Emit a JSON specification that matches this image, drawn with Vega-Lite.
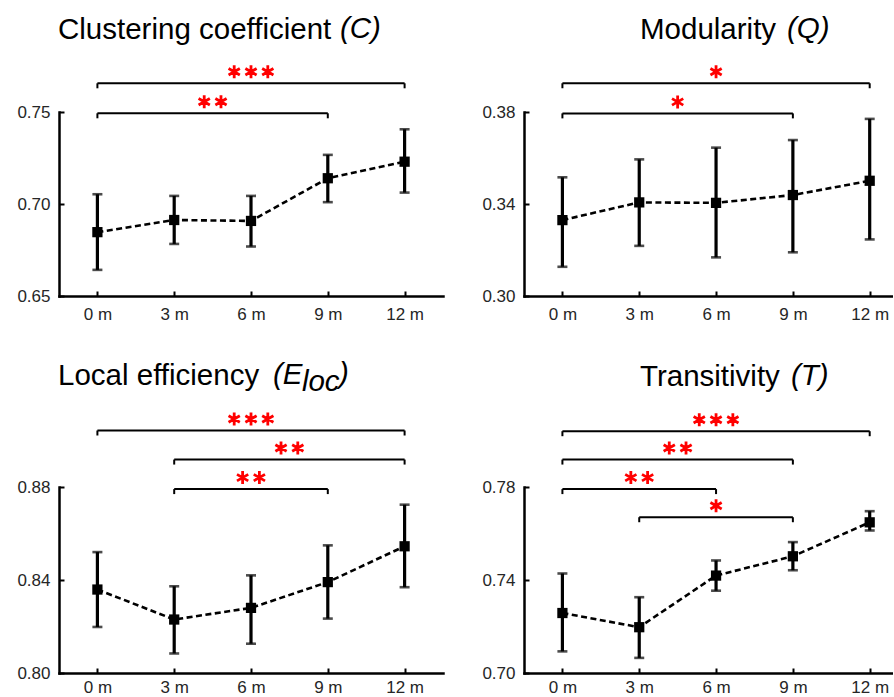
{
  "$schema": "https://vega.github.io/schema/vega-lite/v6.json",
  "padding": {"left": 16, "top": 14, "right": 0, "bottom": 0},
  "datasets": {
    "points": [
      {"metric": "C", "month": 0, "mean": 0.6847, "lo": 0.6642, "hi": 0.7053},
      {"metric": "C", "month": 3, "mean": 0.6913, "lo": 0.6783, "hi": 0.7044},
      {"metric": "C", "month": 6, "mean": 0.6908, "lo": 0.6769, "hi": 0.7044},
      {"metric": "C", "month": 9, "mean": 0.714, "lo": 0.701, "hi": 0.7267},
      {"metric": "C", "month": 12, "mean": 0.723, "lo": 0.7062, "hi": 0.7406},
      {"metric": "Q", "month": 0, "mean": 0.333, "lo": 0.3127, "hi": 0.3516},
      {"metric": "Q", "month": 3, "mean": 0.3407, "lo": 0.3218, "hi": 0.3594},
      {"metric": "Q", "month": 6, "mean": 0.3405, "lo": 0.3168, "hi": 0.3645},
      {"metric": "Q", "month": 9, "mean": 0.3439, "lo": 0.319, "hi": 0.3678},
      {"metric": "Q", "month": 12, "mean": 0.3501, "lo": 0.3246, "hi": 0.377},
      {"metric": "E", "month": 0, "mean": 0.8359, "lo": 0.8198, "hi": 0.852},
      {"metric": "E", "month": 3, "mean": 0.823, "lo": 0.8084, "hi": 0.8373},
      {"metric": "E", "month": 6, "mean": 0.828, "lo": 0.8126, "hi": 0.842},
      {"metric": "E", "month": 9, "mean": 0.8391, "lo": 0.8234, "hi": 0.8549},
      {"metric": "E", "month": 12, "mean": 0.8545, "lo": 0.8369, "hi": 0.8724},
      {"metric": "T", "month": 0, "mean": 0.7258, "lo": 0.7093, "hi": 0.7428},
      {"metric": "T", "month": 3, "mean": 0.7197, "lo": 0.7065, "hi": 0.7326},
      {"metric": "T", "month": 6, "mean": 0.7419, "lo": 0.7354, "hi": 0.7484},
      {"metric": "T", "month": 9, "mean": 0.7502, "lo": 0.7442, "hi": 0.7563},
      {"metric": "T", "month": 12, "mean": 0.7648, "lo": 0.7613, "hi": 0.7696}
    ],
    "brackets": [
      {"metric": "C", "from": 0, "to": 12, "level": 0.7656, "stars": "***"},
      {"metric": "C", "from": 0, "to": 9, "level": 0.7493, "stars": "**"},
      {"metric": "Q", "from": 0, "to": 12, "level": 0.3925, "stars": "*"},
      {"metric": "Q", "from": 0, "to": 9, "level": 0.3794, "stars": "*"},
      {"metric": "E", "from": 0, "to": 12, "level": 0.9043, "stars": "***"},
      {"metric": "E", "from": 3, "to": 12, "level": 0.8918, "stars": "**"},
      {"metric": "E", "from": 3, "to": 9, "level": 0.8791, "stars": "**"},
      {"metric": "T", "from": 0, "to": 12, "level": 0.804, "stars": "***"},
      {"metric": "T", "from": 0, "to": 9, "level": 0.7918, "stars": "**"},
      {"metric": "T", "from": 0, "to": 6, "level": 0.7791, "stars": "**"},
      {"metric": "T", "from": 3, "to": 9, "level": 0.767, "stars": "*"}
    ]
  },
  "spacing": 36,
  "vconcat": [
    {
      "spacing": 38,
      "hconcat": [
        {
          "title": {"text": "(C)", "fontStyle": "italic", "frame": "bounds", "dx": 323, "offset": -29.5},
          "vconcat": [
            {
              "width": 384, "height": 184,
              "title": {"text": "Clustering coefficient", "dx": -1, "offset": 14},
              "encoding": {"x": {"field": "month", "type": "quantitative", "title": null, "scale": {"domain": [-1.5, 13.5], "nice": false, "zero": false}, "axis": {"values": [0, 3, 6, 9, 12], "labelExpr": "datum.value + ' m'", "labelPadding": 15}}},
              "layer": [
                {"data": {"name": "points"}, "transform": [{"filter": "datum.metric === 'C'"}], "mark": {"type": "rule", "strokeWidth": 3.2, "color": "black"},
                 "encoding": {"y": {"field": "lo", "type": "quantitative", "title": null, "scale": {"domain": [0.65, 0.75], "nice": false, "zero": false}, "axis": {"values": [0.65, 0.7, 0.75], "format": ".2f", "labelPadding": 14}}, "y2": {"field": "hi"}}},
                {"data": {"name": "points"}, "transform": [{"filter": "datum.metric === 'C'"}], "mark": {"type": "tick", "orient": "horizontal", "size": 10, "thickness": 2.6, "color": "black"},
                 "encoding": {"y": {"field": "lo", "type": "quantitative", "title": null, "scale": {"domain": [0.65, 0.75], "nice": false, "zero": false}}}},
                {"data": {"name": "points"}, "transform": [{"filter": "datum.metric === 'C'"}], "mark": {"type": "tick", "orient": "horizontal", "size": 10, "thickness": 2.6, "color": "black"},
                 "encoding": {"y": {"field": "hi", "type": "quantitative", "title": null, "scale": {"domain": [0.65, 0.75], "nice": false, "zero": false}}}},
                {"data": {"name": "points"}, "transform": [{"filter": "datum.metric === 'C'"}], "mark": {"type": "line", "strokeWidth": 2.6, "strokeDash": [6, 3.5], "color": "black"},
                 "encoding": {"y": {"field": "mean", "type": "quantitative", "title": null, "scale": {"domain": [0.65, 0.75], "nice": false, "zero": false}}}},
                {"data": {"name": "points"}, "transform": [{"filter": "datum.metric === 'C'"}], "mark": {"type": "point", "shape": "square", "filled": true, "size": 105, "color": "black", "opacity": 1},
                 "encoding": {"y": {"field": "mean", "type": "quantitative", "title": null, "scale": {"domain": [0.65, 0.75], "nice": false, "zero": false}}}},
                {"data": {"name": "brackets"}, "transform": [{"filter": "datum.metric === 'C'"}], "mark": {"type": "rule", "strokeWidth": 2, "color": "black"},
                 "encoding": {"x": {"field": "from", "type": "quantitative", "title": null, "scale": {"domain": [-1.5, 13.5], "nice": false, "zero": false}}, "x2": {"field": "to"}, "y": {"field": "level", "type": "quantitative", "title": null, "scale": {"domain": [0.65, 0.75], "nice": false, "zero": false}}}},
                {"data": {"name": "brackets"}, "transform": [{"filter": "datum.metric === 'C'"}, {"fold": ["from", "to"], "as": ["end", "month"]}], "mark": {"type": "rule", "strokeWidth": 2, "color": "black", "y2Offset": 5},
                 "encoding": {"y": {"field": "level", "type": "quantitative", "title": null, "scale": {"domain": [0.65, 0.75], "nice": false, "zero": false}}, "y2": {"field": "level"}}},
                {"data": {"name": "brackets"}, "transform": [{"filter": "datum.metric === 'C'"}, {"fold": ["from", "to"], "as": ["end", "month"]}, {"aggregate": [{"op": "mean", "field": "month", "as": "mid"}], "groupby": ["level", "stars"]}],
                 "mark": {"type": "point", "filled": false, "strokeWidth": 2.8, "color": "#ff0000", "opacity": 1, "size": 169, "yOffset": -11.5, "strokeCap": "butt"},
                 "encoding": {"x": {"field": "mid", "type": "quantitative", "title": null, "scale": {"domain": [-1.5, 13.5], "nice": false, "zero": false}}, "y": {"field": "level", "type": "quantitative", "title": null, "scale": {"domain": [0.65, 0.75], "nice": false, "zero": false}},
                  "shape": {"field": "stars", "type": "nominal", "legend": null, "scale": {"domain": ["*", "**", "***"], "range": ["M0,-1L0,1M-0.866,-0.5L0.866,0.5M-0.866,0.5L0.866,-0.5", "M-1.29,-1L-1.29,1M-2.156,-0.5L-0.424,0.5M-2.156,0.5L-0.424,-0.5M1.29,-1L1.29,1M0.424,-0.5L2.156,0.5M0.424,0.5L2.156,-0.5", "M-2.585,-1L-2.585,1M-3.451,-0.5L-1.719,0.5M-3.451,0.5L-1.719,-0.5M0,-1L0,1M-0.866,-0.5L0.866,0.5M-0.866,0.5L0.866,-0.5M2.585,-1L2.585,1M1.719,-0.5L3.451,0.5M1.719,0.5L3.451,-0.5"]}}}}
              ]
            }
          ]
        },
        {
          "title": {"text": "(Q)", "fontStyle": "italic", "frame": "bounds", "dx": 305, "offset": -29.5},
          "vconcat": [
            {
              "width": 369, "height": 184,
              "title": {"text": "Modularity", "dx": 116, "offset": 14},
              "encoding": {"x": {"field": "month", "type": "quantitative", "title": null, "scale": {"domain": [-1.5, 12.91], "nice": false, "zero": false}, "axis": {"values": [0, 3, 6, 9, 12], "labelExpr": "datum.value + ' m'", "labelPadding": 15}}},
              "layer": [
                {"data": {"name": "points"}, "transform": [{"filter": "datum.metric === 'Q'"}], "mark": {"type": "rule", "strokeWidth": 3.2, "color": "black"},
                 "encoding": {"y": {"field": "lo", "type": "quantitative", "title": null, "scale": {"domain": [0.3, 0.38], "nice": false, "zero": false}, "axis": {"values": [0.3, 0.34, 0.38], "format": ".2f", "labelPadding": 14}}, "y2": {"field": "hi"}}},
                {"data": {"name": "points"}, "transform": [{"filter": "datum.metric === 'Q'"}], "mark": {"type": "tick", "orient": "horizontal", "size": 10, "thickness": 2.6, "color": "black"},
                 "encoding": {"y": {"field": "lo", "type": "quantitative", "title": null, "scale": {"domain": [0.3, 0.38], "nice": false, "zero": false}}}},
                {"data": {"name": "points"}, "transform": [{"filter": "datum.metric === 'Q'"}], "mark": {"type": "tick", "orient": "horizontal", "size": 10, "thickness": 2.6, "color": "black"},
                 "encoding": {"y": {"field": "hi", "type": "quantitative", "title": null, "scale": {"domain": [0.3, 0.38], "nice": false, "zero": false}}}},
                {"data": {"name": "points"}, "transform": [{"filter": "datum.metric === 'Q'"}], "mark": {"type": "line", "strokeWidth": 2.6, "strokeDash": [6, 3.5], "color": "black"},
                 "encoding": {"y": {"field": "mean", "type": "quantitative", "title": null, "scale": {"domain": [0.3, 0.38], "nice": false, "zero": false}}}},
                {"data": {"name": "points"}, "transform": [{"filter": "datum.metric === 'Q'"}], "mark": {"type": "point", "shape": "square", "filled": true, "size": 105, "color": "black", "opacity": 1},
                 "encoding": {"y": {"field": "mean", "type": "quantitative", "title": null, "scale": {"domain": [0.3, 0.38], "nice": false, "zero": false}}}},
                {"data": {"name": "brackets"}, "transform": [{"filter": "datum.metric === 'Q'"}], "mark": {"type": "rule", "strokeWidth": 2, "color": "black"},
                 "encoding": {"x": {"field": "from", "type": "quantitative", "title": null, "scale": {"domain": [-1.5, 12.91], "nice": false, "zero": false}}, "x2": {"field": "to"}, "y": {"field": "level", "type": "quantitative", "title": null, "scale": {"domain": [0.3, 0.38], "nice": false, "zero": false}}}},
                {"data": {"name": "brackets"}, "transform": [{"filter": "datum.metric === 'Q'"}, {"fold": ["from", "to"], "as": ["end", "month"]}], "mark": {"type": "rule", "strokeWidth": 2, "color": "black", "y2Offset": 5},
                 "encoding": {"y": {"field": "level", "type": "quantitative", "title": null, "scale": {"domain": [0.3, 0.38], "nice": false, "zero": false}}, "y2": {"field": "level"}}},
                {"data": {"name": "brackets"}, "transform": [{"filter": "datum.metric === 'Q'"}, {"fold": ["from", "to"], "as": ["end", "month"]}, {"aggregate": [{"op": "mean", "field": "month", "as": "mid"}], "groupby": ["level", "stars"]}],
                 "mark": {"type": "point", "filled": false, "strokeWidth": 2.8, "color": "#ff0000", "opacity": 1, "size": 169, "yOffset": -11.5, "strokeCap": "butt"},
                 "encoding": {"x": {"field": "mid", "type": "quantitative", "title": null, "scale": {"domain": [-1.5, 12.91], "nice": false, "zero": false}}, "y": {"field": "level", "type": "quantitative", "title": null, "scale": {"domain": [0.3, 0.38], "nice": false, "zero": false}},
                  "shape": {"field": "stars", "type": "nominal", "legend": null, "scale": {"domain": ["*", "**", "***"], "range": ["M0,-1L0,1M-0.866,-0.5L0.866,0.5M-0.866,0.5L0.866,-0.5", "M-1.29,-1L-1.29,1M-2.156,-0.5L-0.424,0.5M-2.156,0.5L-0.424,-0.5M1.29,-1L1.29,1M0.424,-0.5L2.156,0.5M0.424,0.5L2.156,-0.5", "M-2.585,-1L-2.585,1M-3.451,-0.5L-1.719,0.5M-3.451,0.5L-1.719,-0.5M0,-1L0,1M-0.866,-0.5L0.866,0.5M-0.866,0.5L0.866,-0.5M2.585,-1L2.585,1M1.719,-0.5L3.451,0.5M1.719,0.5L3.451,-0.5"]}}}}
              ]
            }
          ]
        }
      ]
    },
    {
      "spacing": 38,
      "hconcat": [
        {
          "title": {"text": ")", "fontStyle": "italic", "frame": "bounds", "dx": 322, "offset": -29.5},
          "vconcat": [
            {
              "title": {"text": "loc", "fontStyle": "italic", "frame": "bounds", "dx": 285, "dy": 8, "offset": -29.5},
              "vconcat": [
                {
                  "title": {"text": "(E", "fontStyle": "italic", "frame": "bounds", "dx": 256, "offset": -29.5},
                  "vconcat": [
                    {
                      "width": 384, "height": 186,
                      "title": {"text": "Local efficiency", "dx": -1, "offset": 15.5},
                      "encoding": {"x": {"field": "month", "type": "quantitative", "title": null, "scale": {"domain": [-1.5, 13.5], "nice": false, "zero": false}, "axis": {"values": [0, 3, 6, 9, 12], "labelExpr": "datum.value + ' m'", "labelPadding": 11}}},
                      "layer": [
                        {"data": {"name": "points"}, "transform": [{"filter": "datum.metric === 'E'"}], "mark": {"type": "rule", "strokeWidth": 3.2, "color": "black"},
                         "encoding": {"y": {"field": "lo", "type": "quantitative", "title": null, "scale": {"domain": [0.8, 0.88], "nice": false, "zero": false}, "axis": {"values": [0.8, 0.84, 0.88], "format": ".2f", "labelPadding": 14}}, "y2": {"field": "hi"}}},
                        {"data": {"name": "points"}, "transform": [{"filter": "datum.metric === 'E'"}], "mark": {"type": "tick", "orient": "horizontal", "size": 10, "thickness": 2.6, "color": "black"},
                         "encoding": {"y": {"field": "lo", "type": "quantitative", "title": null, "scale": {"domain": [0.8, 0.88], "nice": false, "zero": false}}}},
                        {"data": {"name": "points"}, "transform": [{"filter": "datum.metric === 'E'"}], "mark": {"type": "tick", "orient": "horizontal", "size": 10, "thickness": 2.6, "color": "black"},
                         "encoding": {"y": {"field": "hi", "type": "quantitative", "title": null, "scale": {"domain": [0.8, 0.88], "nice": false, "zero": false}}}},
                        {"data": {"name": "points"}, "transform": [{"filter": "datum.metric === 'E'"}], "mark": {"type": "line", "strokeWidth": 2.6, "strokeDash": [6, 3.5], "color": "black"},
                         "encoding": {"y": {"field": "mean", "type": "quantitative", "title": null, "scale": {"domain": [0.8, 0.88], "nice": false, "zero": false}}}},
                        {"data": {"name": "points"}, "transform": [{"filter": "datum.metric === 'E'"}], "mark": {"type": "point", "shape": "square", "filled": true, "size": 105, "color": "black", "opacity": 1},
                         "encoding": {"y": {"field": "mean", "type": "quantitative", "title": null, "scale": {"domain": [0.8, 0.88], "nice": false, "zero": false}}}},
                        {"data": {"name": "brackets"}, "transform": [{"filter": "datum.metric === 'E'"}], "mark": {"type": "rule", "strokeWidth": 2, "color": "black"},
                         "encoding": {"x": {"field": "from", "type": "quantitative", "title": null, "scale": {"domain": [-1.5, 13.5], "nice": false, "zero": false}}, "x2": {"field": "to"}, "y": {"field": "level", "type": "quantitative", "title": null, "scale": {"domain": [0.8, 0.88], "nice": false, "zero": false}}}},
                        {"data": {"name": "brackets"}, "transform": [{"filter": "datum.metric === 'E'"}, {"fold": ["from", "to"], "as": ["end", "month"]}], "mark": {"type": "rule", "strokeWidth": 2, "color": "black", "y2Offset": 5},
                         "encoding": {"y": {"field": "level", "type": "quantitative", "title": null, "scale": {"domain": [0.8, 0.88], "nice": false, "zero": false}}, "y2": {"field": "level"}}},
                        {"data": {"name": "brackets"}, "transform": [{"filter": "datum.metric === 'E'"}, {"fold": ["from", "to"], "as": ["end", "month"]}, {"aggregate": [{"op": "mean", "field": "month", "as": "mid"}], "groupby": ["level", "stars"]}],
                         "mark": {"type": "point", "filled": false, "strokeWidth": 2.8, "color": "#ff0000", "opacity": 1, "size": 169, "yOffset": -11.5, "strokeCap": "butt"},
                         "encoding": {"x": {"field": "mid", "type": "quantitative", "title": null, "scale": {"domain": [-1.5, 13.5], "nice": false, "zero": false}}, "y": {"field": "level", "type": "quantitative", "title": null, "scale": {"domain": [0.8, 0.88], "nice": false, "zero": false}},
                          "shape": {"field": "stars", "type": "nominal", "legend": null, "scale": {"domain": ["*", "**", "***"], "range": ["M0,-1L0,1M-0.866,-0.5L0.866,0.5M-0.866,0.5L0.866,-0.5", "M-1.29,-1L-1.29,1M-2.156,-0.5L-0.424,0.5M-2.156,0.5L-0.424,-0.5M1.29,-1L1.29,1M0.424,-0.5L2.156,0.5M0.424,0.5L2.156,-0.5", "M-2.585,-1L-2.585,1M-3.451,-0.5L-1.719,0.5M-3.451,0.5L-1.719,-0.5M0,-1L0,1M-0.866,-0.5L0.866,0.5M-0.866,0.5L0.866,-0.5M2.585,-1L2.585,1M1.719,-0.5L3.451,0.5M1.719,0.5L3.451,-0.5"]}}}}
                      ]
                    }
                  ]
                }
              ]
            }
          ]
        },
        {
          "title": {"text": "(T)", "fontStyle": "italic", "frame": "bounds", "dx": 309, "offset": -29.5},
          "vconcat": [
            {
              "width": 369, "height": 186,
              "title": {"text": "Transitivity", "dx": 116, "offset": 15.5},
              "encoding": {"x": {"field": "month", "type": "quantitative", "title": null, "scale": {"domain": [-1.5, 12.91], "nice": false, "zero": false}, "axis": {"values": [0, 3, 6, 9, 12], "labelExpr": "datum.value + ' m'", "labelPadding": 11}}},
              "layer": [
                {"data": {"name": "points"}, "transform": [{"filter": "datum.metric === 'T'"}], "mark": {"type": "rule", "strokeWidth": 3.2, "color": "black"},
                 "encoding": {"y": {"field": "lo", "type": "quantitative", "title": null, "scale": {"domain": [0.7, 0.78], "nice": false, "zero": false}, "axis": {"values": [0.7, 0.74, 0.78], "format": ".2f", "labelPadding": 14}}, "y2": {"field": "hi"}}},
                {"data": {"name": "points"}, "transform": [{"filter": "datum.metric === 'T'"}], "mark": {"type": "tick", "orient": "horizontal", "size": 10, "thickness": 2.6, "color": "black"},
                 "encoding": {"y": {"field": "lo", "type": "quantitative", "title": null, "scale": {"domain": [0.7, 0.78], "nice": false, "zero": false}}}},
                {"data": {"name": "points"}, "transform": [{"filter": "datum.metric === 'T'"}], "mark": {"type": "tick", "orient": "horizontal", "size": 10, "thickness": 2.6, "color": "black"},
                 "encoding": {"y": {"field": "hi", "type": "quantitative", "title": null, "scale": {"domain": [0.7, 0.78], "nice": false, "zero": false}}}},
                {"data": {"name": "points"}, "transform": [{"filter": "datum.metric === 'T'"}], "mark": {"type": "line", "strokeWidth": 2.6, "strokeDash": [6, 3.5], "color": "black"},
                 "encoding": {"y": {"field": "mean", "type": "quantitative", "title": null, "scale": {"domain": [0.7, 0.78], "nice": false, "zero": false}}}},
                {"data": {"name": "points"}, "transform": [{"filter": "datum.metric === 'T'"}], "mark": {"type": "point", "shape": "square", "filled": true, "size": 105, "color": "black", "opacity": 1},
                 "encoding": {"y": {"field": "mean", "type": "quantitative", "title": null, "scale": {"domain": [0.7, 0.78], "nice": false, "zero": false}}}},
                {"data": {"name": "brackets"}, "transform": [{"filter": "datum.metric === 'T'"}], "mark": {"type": "rule", "strokeWidth": 2, "color": "black"},
                 "encoding": {"x": {"field": "from", "type": "quantitative", "title": null, "scale": {"domain": [-1.5, 12.91], "nice": false, "zero": false}}, "x2": {"field": "to"}, "y": {"field": "level", "type": "quantitative", "title": null, "scale": {"domain": [0.7, 0.78], "nice": false, "zero": false}}}},
                {"data": {"name": "brackets"}, "transform": [{"filter": "datum.metric === 'T'"}, {"fold": ["from", "to"], "as": ["end", "month"]}], "mark": {"type": "rule", "strokeWidth": 2, "color": "black", "y2Offset": 5},
                 "encoding": {"y": {"field": "level", "type": "quantitative", "title": null, "scale": {"domain": [0.7, 0.78], "nice": false, "zero": false}}, "y2": {"field": "level"}}},
                {"data": {"name": "brackets"}, "transform": [{"filter": "datum.metric === 'T'"}, {"fold": ["from", "to"], "as": ["end", "month"]}, {"aggregate": [{"op": "mean", "field": "month", "as": "mid"}], "groupby": ["level", "stars"]}],
                 "mark": {"type": "point", "filled": false, "strokeWidth": 2.8, "color": "#ff0000", "opacity": 1, "size": 169, "yOffset": -11.5, "strokeCap": "butt"},
                 "encoding": {"x": {"field": "mid", "type": "quantitative", "title": null, "scale": {"domain": [-1.5, 12.91], "nice": false, "zero": false}}, "y": {"field": "level", "type": "quantitative", "title": null, "scale": {"domain": [0.7, 0.78], "nice": false, "zero": false}},
                  "shape": {"field": "stars", "type": "nominal", "legend": null, "scale": {"domain": ["*", "**", "***"], "range": ["M0,-1L0,1M-0.866,-0.5L0.866,0.5M-0.866,0.5L0.866,-0.5", "M-1.29,-1L-1.29,1M-2.156,-0.5L-0.424,0.5M-2.156,0.5L-0.424,-0.5M1.29,-1L1.29,1M0.424,-0.5L2.156,0.5M0.424,0.5L2.156,-0.5", "M-2.585,-1L-2.585,1M-3.451,-0.5L-1.719,0.5M-3.451,0.5L-1.719,-0.5M0,-1L0,1M-0.866,-0.5L0.866,0.5M-0.866,0.5L0.866,-0.5M2.585,-1L2.585,1M1.719,-0.5L3.451,0.5M1.719,0.5L3.451,-0.5"]}}}}
              ]
            }
          ]
        }
      ]
    }
  ],
  "config": {
    "font": "Liberation Sans",
    "view": {"stroke": null},
    "axis": {
      "grid": false,
      "domainColor": "black",
      "domainWidth": 2.5,
      "domainCap": "square",
      "tickColor": "black",
      "tickWidth": 2,
      "tickSize": -5,
      "labelFont": "Liberation Sans",
      "labelFontSize": 17,
      "labelColor": "#262626"
    },
    "title": {
      "font": "Liberation Sans",
      "fontSize": 29.5,
      "fontWeight": "normal",
      "color": "black",
      "anchor": "start",
      "frame": "group"
    }
  }
}
